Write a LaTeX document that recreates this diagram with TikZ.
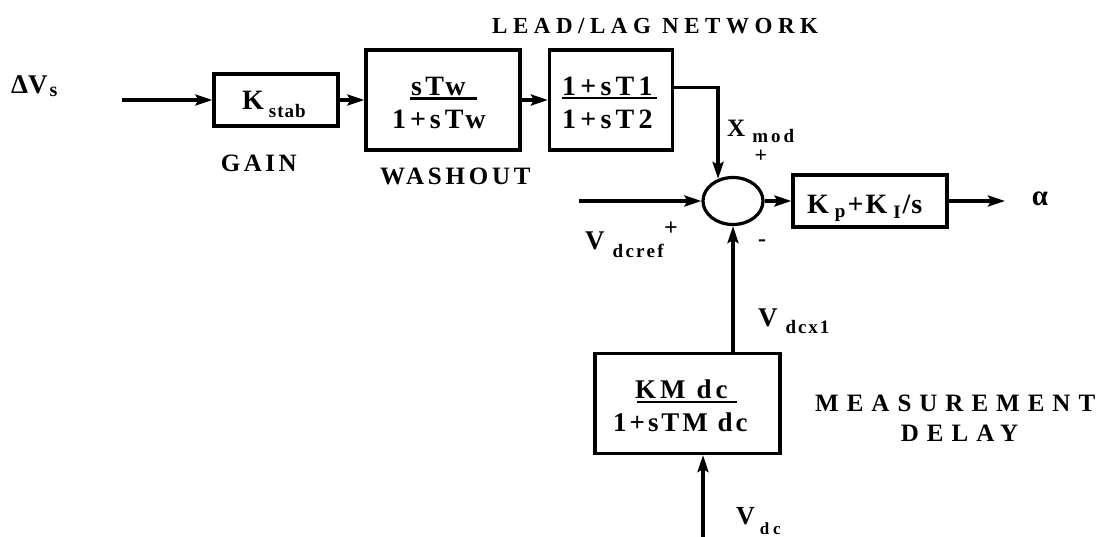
\documentclass[tikz,border=0pt]{standalone}
\usepackage{fontspec}
\setmainfont{Liberation Serif}
\usetikzlibrary{arrows.meta,shapes.geometric}
\newcommand{\tx}[3]{{\fontsize{#1}{#1}\selectfont\bfseries\addfontfeature{LetterSpace=#2}#3}}
\newcommand{\lsub}[3]{\raisebox{-#1}{\tx{19}{#2}{#3}}}
\begin{document}
\begin{tikzpicture}[x=1pt,y=-1pt,
  blk/.style={draw,line width=3.2pt,rectangle,inner sep=0pt},
  sumj/.style={draw,ellipse,line width=3.2pt,inner sep=0pt},
  arr/.style={line width=3.2pt,-{Stealth[length=17pt,width=11pt,inset=3pt]}},
  lab/.style={inner sep=0pt,anchor=base west},
  sgn/.style={inner sep=0pt,anchor=center},
  uline/.style={line width=2.6pt}]
\useasboundingbox (0,0) rectangle (1098,537);
% blocks
\node[blk,minimum width=124pt,minimum height=52pt] (kstab) at (276,100) {};
\node[blk,minimum width=154pt,minimum height=100pt] (washout) at (443,100) {};
\node[blk,minimum width=123pt,minimum height=100pt] (leadlag) at (611,100) {};
\node[sumj,minimum width=60pt,minimum height=47pt] (sum) at (733,201) {};
\node[blk,minimum width=154pt,minimum height=52pt] (pi) at (870,201) {};
\node[blk,minimum width=185pt,minimum height=100pt] (meas) at (687.5,403.5) {};
% free ends
\coordinate (vin) at (122,100);
\coordinate (xm) at (718,87.7);
\coordinate (vref) at (579,201);
\coordinate (aout) at (1005,201);
\coordinate (vdcin) at (703,537);
% connectors
\draw[arr] (vin) -- (kstab.west);
\draw[arr] (kstab.east) -- (washout.west);
\draw[arr] (washout.east) -- (leadlag.west);
\draw[arr] (leadlag.east |- xm) -| (sum.124);
\draw[arr] (vref) -- (sum.west);
\draw[arr] (sum.east) -- (pi.west);
\draw[arr] (pi.east) -- (aout);
\draw[arr] (sum.south |- meas.north) -- (sum.south);
\draw[arr] (vdcin) -- (vdcin |- meas.south);
% block texts
\node[lab] (tkstab) at (242,110) {\tx{28}{0}{K}\kern5pt\lsub{8pt}{5}{stab}};
\node[lab] (twn) at (411,95.5) {\tx{28}{12}{sTw}};
\node[lab] (twd) at (392,128.5) {\tx{28}{14}{1+sTw}};
\draw[uline] (410,98.8) -- (476.7,98.8);
\node[lab] (tln) at (562,95.5) {\tx{28}{15}{1+sT1}};
\node[lab] (tld) at (562,128.5) {\tx{28}{15}{1+sT2}};
\draw[uline] (561.7,98) -- (657,98);
\node[lab] (tmn) at (635,398) {\tx{27}{15}{KM dc}};
\node[lab] (tmd) at (613,431.7) {\tx{27}{11}{1+sTM dc}};
\draw[uline] (636.7,402) -- (737.3,402);
\node[lab] (tpi) at (807,213.3) {\tx{28}{0}{K}\kern6pt\lsub{4pt}{0}{p}\kern2pt\tx{28}{0}{+}\kern2pt\tx{28}{0}{K}\kern6pt\lsub{5pt}{0}{I}\kern2pt\tx{28}{0}{/}\kern1pt\tx{28}{0}{s}};
% labels
\node[lab] (ldvs) at (11,93.3) {\tx{27}{0}{ΔV}\kern2pt\raisebox{-3.4pt}{\tx{20}{0}{s}}};
\node[lab] (llead) at (492,33.3) {\tx{23}{24}{LEAD/LAG NETWORK}};
\node[lab] (lgain) at (220.7,171.7) {\tx{25}{14}{GAIN}};
\node[lab] (lwash) at (380,185) {\tx{25}{15}{WASHOUT}};
\node[lab] (lmeas) at (815,411.7) {\tx{25}{32}{MEASUREMENT}};
\node[lab] (ldelay) at (900.7,441.7) {\tx{25}{32}{DELAY}};
\node[lab] (lxmod) at (727,136.7) {\tx{25}{0}{X}\kern7pt\lsub{6pt}{16}{mod}};
\node[sgn] (pxm) at (761,156) {\tx{22}{0}{+}};
\node[lab] (lvref) at (585,250) {\tx{27}{0}{V}\kern8pt\lsub{7.3pt}{12}{dcref}};
\node[sgn] (pvref) at (671,229) {\tx{24}{0}{+}};
\node[sgn] (mvdc) at (762,243) {\tx{24}{0}{-}};
\node[lab] (lalpha) at (1031.7,206) {\tx{29}{0}{α}};
\node[lab] (lvdcx) at (758,326.7) {\tx{27}{0}{V}\kern8pt\lsub{6.6pt}{10}{dcx1}};
\node[lab] (lvdc) at (736,524) {\tx{26}{0}{V}\kern5pt\raisebox{-10pt}{\tx{17}{22}{dc}}};
\end{tikzpicture}
\end{document}
